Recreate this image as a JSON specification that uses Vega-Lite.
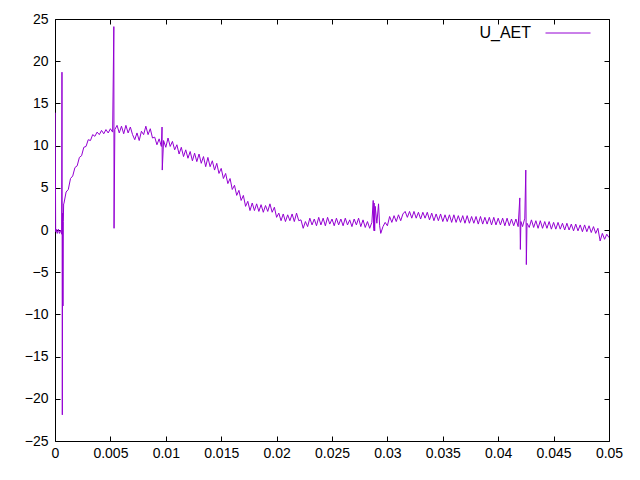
{
  "$schema": "https://vega.github.io/schema/vega-lite/v6.json",
  "width": 554,
  "height": 422,
  "autosize": "none",
  "padding": {"left": 55, "top": 19, "right": 31, "bottom": 39},
  "background": "white",
  "config": {
    "font": "Liberation Sans",
    "view": {"stroke": "black", "strokeWidth": 1},
    "axis": {
      "grid": false,
      "domain": false,
      "tickColor": "black",
      "tickSize": -5,
      "labelColor": "black",
      "labelFont": "Liberation Sans",
      "labelFontSize": 14,
      "title": null
    }
  },
  "data": {
    "values": [
      {"t": 0.00002, "v": 13.9}, {"t": 0.00006, "v": -0.2}, {"t": 0.0001, "v": 0.1}, {"t": 0.0002, "v": -0.4},
      {"t": 0.0003, "v": 0.1}, {"t": 0.0004, "v": -0.4}, {"t": 0.0005, "v": 0.0}, {"t": 0.0006, "v": -0.5},
      {"t": 0.00063, "v": 18.7}, {"t": 0.00066, "v": -21.9}, {"t": 0.00069, "v": 2.0}, {"t": 0.00072, "v": -9.0},
      {"t": 0.00075, "v": 1.0}, {"t": 0.00078, "v": 3.1},
      {"t": 0.0008, "v": 3.1}, {"t": 0.001, "v": 4.5}, {"t": 0.0012, "v": 4.8}, {"t": 0.0014, "v": 6.1},
      {"t": 0.0016, "v": 6.4}, {"t": 0.0018, "v": 7.4}, {"t": 0.002, "v": 7.6}, {"t": 0.0022, "v": 8.6},
      {"t": 0.0024, "v": 8.8}, {"t": 0.0026, "v": 9.8}, {"t": 0.0028, "v": 9.9}, {"t": 0.003, "v": 10.7},
      {"t": 0.0032, "v": 10.6}, {"t": 0.0034, "v": 11.3}, {"t": 0.0036, "v": 11.1}, {"t": 0.0038, "v": 11.6},
      {"t": 0.004, "v": 11.3}, {"t": 0.0042, "v": 11.8}, {"t": 0.0044, "v": 11.4}, {"t": 0.0046, "v": 11.9},
      {"t": 0.0048, "v": 11.5}, {"t": 0.005, "v": 12.0}, {"t": 0.0052, "v": 11.6},
      {"t": 0.00531, "v": 24.1}, {"t": 0.00533, "v": 0.2},
      {"t": 0.0054, "v": 11.9}, {"t": 0.0056, "v": 12.4}, {"t": 0.0058, "v": 11.5}, {"t": 0.006, "v": 12.3},
      {"t": 0.0062, "v": 11.4}, {"t": 0.0064, "v": 12.4}, {"t": 0.0066, "v": 11.5}, {"t": 0.0068, "v": 12.2},
      {"t": 0.007, "v": 11.3}, {"t": 0.0072, "v": 10.7}, {"t": 0.0074, "v": 11.5}, {"t": 0.0076, "v": 10.6},
      {"t": 0.0078, "v": 11.7}, {"t": 0.008, "v": 11.3}, {"t": 0.0082, "v": 12.3}, {"t": 0.0084, "v": 11.3},
      {"t": 0.0086, "v": 12.0}, {"t": 0.0088, "v": 10.9}, {"t": 0.009, "v": 11.0}, {"t": 0.0092, "v": 10.1},
      {"t": 0.0094, "v": 10.8}, {"t": 0.0096, "v": 9.9},
      {"t": 0.00966, "v": 12.2}, {"t": 0.00968, "v": 7.1},
      {"t": 0.0098, "v": 10.6}, {"t": 0.01, "v": 9.8}, {"t": 0.0102, "v": 10.9}, {"t": 0.0104, "v": 9.9},
      {"t": 0.0106, "v": 10.5}, {"t": 0.0108, "v": 9.5}, {"t": 0.011, "v": 10.1}, {"t": 0.0112, "v": 9.0},
      {"t": 0.0114, "v": 9.8}, {"t": 0.0116, "v": 8.7}, {"t": 0.0118, "v": 9.5}, {"t": 0.012, "v": 8.5},
      {"t": 0.0122, "v": 9.3}, {"t": 0.0124, "v": 8.2}, {"t": 0.0126, "v": 9.1}, {"t": 0.0128, "v": 8.1},
      {"t": 0.013, "v": 9.0}, {"t": 0.0132, "v": 7.9}, {"t": 0.0134, "v": 8.7}, {"t": 0.0136, "v": 7.5},
      {"t": 0.0138, "v": 8.6}, {"t": 0.014, "v": 7.5}, {"t": 0.0142, "v": 8.2}, {"t": 0.0144, "v": 7.1},
      {"t": 0.0146, "v": 7.9}, {"t": 0.0148, "v": 6.7}, {"t": 0.015, "v": 7.3}, {"t": 0.0152, "v": 6.1},
      {"t": 0.0154, "v": 6.7}, {"t": 0.0156, "v": 5.5}, {"t": 0.0158, "v": 6.1}, {"t": 0.016, "v": 4.8},
      {"t": 0.0162, "v": 5.3}, {"t": 0.0164, "v": 4.1}, {"t": 0.0166, "v": 4.7}, {"t": 0.0168, "v": 3.5},
      {"t": 0.017, "v": 4.1}, {"t": 0.0172, "v": 2.8}, {"t": 0.0174, "v": 3.4}, {"t": 0.0176, "v": 2.3},
      {"t": 0.0178, "v": 3.2}, {"t": 0.018, "v": 2.3}, {"t": 0.0182, "v": 3.1}, {"t": 0.0184, "v": 2.2},
      {"t": 0.0186, "v": 3.0}, {"t": 0.0188, "v": 2.1}, {"t": 0.019, "v": 2.9}, {"t": 0.0192, "v": 2.2},
      {"t": 0.0194, "v": 3.1}, {"t": 0.0196, "v": 2.1}, {"t": 0.0198, "v": 2.7}, {"t": 0.02, "v": 1.5},
      {"t": 0.0202, "v": 2.0}, {"t": 0.0204, "v": 1.1}, {"t": 0.0206, "v": 1.9}, {"t": 0.0208, "v": 1.0},
      {"t": 0.021, "v": 1.8}, {"t": 0.0212, "v": 1.1}, {"t": 0.0214, "v": 1.9}, {"t": 0.0216, "v": 1.0},
      {"t": 0.0218, "v": 2.0}, {"t": 0.022, "v": 1.1}, {"t": 0.0222, "v": 1.2}, {"t": 0.0224, "v": 0.2},
      {"t": 0.0226, "v": 1.0}, {"t": 0.0228, "v": 0.4}, {"t": 0.023, "v": 1.4}, {"t": 0.0232, "v": 0.6},
      {"t": 0.0234, "v": 1.3}, {"t": 0.0236, "v": 0.5}, {"t": 0.0238, "v": 1.5}, {"t": 0.024, "v": 0.6},
      {"t": 0.0242, "v": 1.4}, {"t": 0.0244, "v": 0.5}, {"t": 0.0246, "v": 1.5}, {"t": 0.0248, "v": 0.7},
      {"t": 0.025, "v": 1.3}, {"t": 0.0252, "v": 0.5}, {"t": 0.0254, "v": 1.4}, {"t": 0.0256, "v": 0.6},
      {"t": 0.0258, "v": 1.3}, {"t": 0.026, "v": 0.5}, {"t": 0.0262, "v": 1.4}, {"t": 0.0264, "v": 0.6},
      {"t": 0.0266, "v": 1.2}, {"t": 0.0268, "v": 0.4}, {"t": 0.027, "v": 1.3}, {"t": 0.0272, "v": 0.6},
      {"t": 0.0274, "v": 1.4}, {"t": 0.0276, "v": 0.4}, {"t": 0.0278, "v": 1.2}, {"t": 0.028, "v": 0.3},
      {"t": 0.0282, "v": 1.0}, {"t": 0.0284, "v": 0.2}, {"t": 0.0286, "v": 0.9}, {"t": 0.0288, "v": -0.1},
      {"t": 0.02872, "v": 3.5}, {"t": 0.02876, "v": 0.2}, {"t": 0.0288, "v": 3.2}, {"t": 0.02885, "v": -0.1},
      {"t": 0.0289, "v": 2.8}, {"t": 0.02905, "v": 0.8}, {"t": 0.0292, "v": 3.1}, {"t": 0.0293, "v": 0.5},
      {"t": 0.0294, "v": -0.4}, {"t": 0.0296, "v": 0.4}, {"t": 0.0298, "v": 0.9},
      {"t": 0.03, "v": 0.5}, {"t": 0.0302, "v": 1.6}, {"t": 0.0304, "v": 0.9}, {"t": 0.0306, "v": 1.7},
      {"t": 0.0308, "v": 1.0}, {"t": 0.031, "v": 1.8}, {"t": 0.0312, "v": 1.1}, {"t": 0.0314, "v": 1.9},
      {"t": 0.0316, "v": 2.2}, {"t": 0.0318, "v": 1.5}, {"t": 0.032, "v": 2.2}, {"t": 0.0322, "v": 1.4},
      {"t": 0.0324, "v": 2.2}, {"t": 0.0326, "v": 1.4}, {"t": 0.0328, "v": 2.1}, {"t": 0.033, "v": 1.3},
      {"t": 0.0332, "v": 2.1}, {"t": 0.0334, "v": 1.4}, {"t": 0.0336, "v": 2.1}, {"t": 0.0338, "v": 1.2},
      {"t": 0.034, "v": 2.0}, {"t": 0.0342, "v": 1.1}, {"t": 0.0344, "v": 1.9}, {"t": 0.0346, "v": 1.1},
      {"t": 0.0348, "v": 1.9}, {"t": 0.035, "v": 1.0}, {"t": 0.0352, "v": 1.8}, {"t": 0.0354, "v": 1.0},
      {"t": 0.0356, "v": 1.8}, {"t": 0.0358, "v": 0.9}, {"t": 0.036, "v": 1.8}, {"t": 0.0362, "v": 0.9},
      {"t": 0.0364, "v": 1.7}, {"t": 0.0366, "v": 0.9}, {"t": 0.0368, "v": 1.7}, {"t": 0.037, "v": 0.8},
      {"t": 0.0372, "v": 1.7}, {"t": 0.0374, "v": 0.8}, {"t": 0.0376, "v": 1.6}, {"t": 0.0378, "v": 0.8},
      {"t": 0.038, "v": 1.6}, {"t": 0.0382, "v": 0.7}, {"t": 0.0384, "v": 1.6}, {"t": 0.0386, "v": 0.7},
      {"t": 0.0388, "v": 1.5}, {"t": 0.039, "v": 0.7}, {"t": 0.0392, "v": 1.5}, {"t": 0.0394, "v": 0.6},
      {"t": 0.0396, "v": 1.5}, {"t": 0.0398, "v": 0.6}, {"t": 0.04, "v": 1.4}, {"t": 0.0402, "v": 0.6},
      {"t": 0.0404, "v": 1.4}, {"t": 0.0406, "v": 0.5}, {"t": 0.0408, "v": 1.4}, {"t": 0.041, "v": 0.5},
      {"t": 0.0412, "v": 1.3}, {"t": 0.0414, "v": 0.5}, {"t": 0.0416, "v": 1.3}, {"t": 0.0418, "v": 0.4},
      {"t": 0.04195, "v": 3.8}, {"t": 0.042, "v": -2.3}, {"t": 0.04205, "v": 1.0},
      {"t": 0.0422, "v": 0.4}, {"t": 0.0424, "v": 1.4},
      {"t": 0.04249, "v": 7.1}, {"t": 0.04254, "v": -4.1},
      {"t": 0.0426, "v": 0.8}, {"t": 0.0428, "v": 0.3}, {"t": 0.043, "v": 1.2}, {"t": 0.0432, "v": 0.3},
      {"t": 0.0434, "v": 1.1}, {"t": 0.0436, "v": 0.2}, {"t": 0.0438, "v": 1.1}, {"t": 0.044, "v": 0.2},
      {"t": 0.0442, "v": 1.0}, {"t": 0.0444, "v": 0.2}, {"t": 0.0446, "v": 1.0}, {"t": 0.0448, "v": 0.1},
      {"t": 0.045, "v": 0.9}, {"t": 0.0452, "v": 0.1}, {"t": 0.0454, "v": 0.9}, {"t": 0.0456, "v": 0.1},
      {"t": 0.0458, "v": 0.8}, {"t": 0.046, "v": 0.0}, {"t": 0.0462, "v": 0.8}, {"t": 0.0464, "v": 0.0},
      {"t": 0.0466, "v": 0.7}, {"t": 0.0468, "v": -0.1}, {"t": 0.047, "v": 0.7}, {"t": 0.0472, "v": -0.1},
      {"t": 0.0474, "v": 0.6}, {"t": 0.0476, "v": -0.2}, {"t": 0.0478, "v": 0.6}, {"t": 0.048, "v": -0.2},
      {"t": 0.0482, "v": 0.5}, {"t": 0.0484, "v": -0.3}, {"t": 0.0486, "v": 0.4}, {"t": 0.0488, "v": -0.4},
      {"t": 0.049, "v": 0.2}, {"t": 0.0492, "v": -1.3}, {"t": 0.0494, "v": -0.4}, {"t": 0.0496, "v": -1.1},
      {"t": 0.0498, "v": -0.5}, {"t": 0.05, "v": -0.9}
    ]
  },
  "layer": [
    {
      "mark": {"type": "line", "strokeWidth": 1, "clip": true},
      "encoding": {
        "x": {
          "field": "t", "type": "quantitative",
          "scale": {"domain": [0, 0.05], "nice": false, "zero": false},
          "axis": {"orient": "bottom", "values": [0, 0.005, 0.01, 0.015, 0.02, 0.025, 0.03, 0.035, 0.04, 0.045, 0.05], "format": "~g", "labelPadding": 10, "labelFlush": false}
        },
        "y": {
          "field": "v", "type": "quantitative",
          "scale": {"domain": [-25, 25], "nice": false, "zero": false},
          "axis": {"orient": "left", "values": [-25, -20, -15, -10, -5, 0, 5, 10, 15, 20, 25], "labelPadding": 12, "labelFlush": false}
        },
        "color": {
          "datum": "U_AET",
          "type": "nominal",
          "scale": {"range": ["#9400d3"]},
          "legend": {
            "title": null,
            "orient": "none",
            "legendX": 490,
            "legendY": -9,
            "symbolType": "stroke",
            "symbolSize": 2025,
            "symbolStrokeWidth": 1,
            "labelAlign": "right",
            "labelOffset": -60,
            "labelFont": "Liberation Sans",
            "labelFontSize": 16,
            "labelColor": "black"
          }
        }
      }
    },
    {
      "mark": {"type": "line", "opacity": 0},
      "encoding": {
        "x": {
          "field": "t", "type": "quantitative",
          "axis": {"orient": "top", "labels": false, "values": [0, 0.005, 0.01, 0.015, 0.02, 0.025, 0.03, 0.035, 0.04, 0.045, 0.05]}
        },
        "y": {
          "field": "v", "type": "quantitative",
          "axis": {"orient": "right", "labels": false, "values": [-25, -20, -15, -10, -5, 0, 5, 10, 15, 20, 25]}
        }
      }
    }
  ],
  "resolve": {"axis": {"x": "independent", "y": "independent"}}
}
